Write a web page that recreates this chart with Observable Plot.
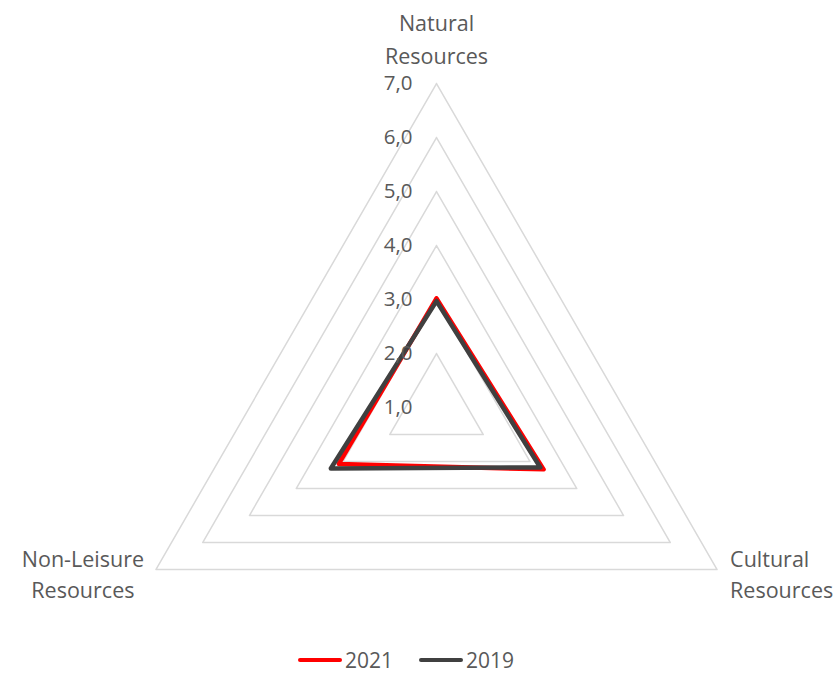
<!DOCTYPE html>
<html><head><meta charset="utf-8">
<script src="https://cdn.jsdelivr.net/npm/d3@7"></script>
<script src="https://cdn.jsdelivr.net/npm/@observablehq/plot@0.6"></script>
<style>
html,body{margin:0;background:#fff;font-family:"Open Sans",sans-serif;overflow:hidden;}
#chart{height:645px;}
#legend{display:flex;align-items:center;height:30px;line-height:24px;margin-left:298px;color:#595959;font-size:21px;font-family:"Open Sans",sans-serif;}
#legend .item{display:flex;align-items:center;margin-right:26px;}
#legend .sw{display:inline-block;width:44px;height:4.5px;border-radius:2.5px;margin-right:3px;}
</style></head><body>
<div id="chart"></div>
<div id="legend"></div>
<script>
const categories = ["Natural\nResources", "Cultural\nResources", "Non-Leisure\nResources"];
const series = ["2021", "2019"];
const values2021 = [3.02, 3.29, 3.09];
const values2019 = [2.97, 3.22, 3.26];
const seriesValues = [values2021, values2019];
const colors = ["#ff0000", "#404040"];
const ticks = [1, 2, 3, 4, 5, 6, 7];
const tickLabels = ["1,0", "2,0", "3,0", "4,0", "5,0", "6,0", "7,0"];

const W = 835, H = 645, CX = 436, CY = 407, UNIT = 54;
const rMin = ticks[0], rMax = ticks[ticks.length - 1];
const angle = i => Math.PI / 2 - i * 2 * Math.PI / 3;
const pos = (i, v) => ({x: (v - rMin) * Math.cos(angle(i)), y: (v - rMin) * Math.sin(angle(i))});

// grid rings (closed triangles)
const grid = [];
ticks.slice(1).forEach(t => {
  [0, 1, 2, 0].forEach(i => grid.push({ring: t, ...pos(i, t)}));
});
// series polygons
const lines = [];
series.forEach((s, k) => {
  [0, 1, 2, 0].forEach(i => lines.push({series: s, ...pos(i, seriesValues[k][i])}));
});
const tickData = ticks.map((t, j) => ({label: tickLabels[j], ...pos(0, t)}));
const catData = categories.map((c, i) => ({label: c, i, ...pos(i, rMax)}));

const txt = {fill: "#595959", fontFamily: "Open Sans", stroke: null};
const chart = Plot.plot({
  width: W, height: H,
  margin: 0,
  x: {domain: [-CX / UNIT, (W - CX) / UNIT], axis: null},
  y: {domain: [-(H - CY) / UNIT, CY / UNIT], axis: null},
  color: {domain: series, range: colors},
  marks: [
    Plot.line(grid, {x: "x", y: "y", z: "ring", stroke: "#d9d9d9", strokeWidth: 1.5}),
    Plot.line(lines, {x: "x", y: "y", z: "series", stroke: "series", strokeWidth: 4.5, strokeLinejoin: "round", strokeLinecap: "round"}),
    Plot.text(tickData, {x: "x", y: "y", text: "label", textAnchor: "end", dx: -24, fontSize: 20.5, ...txt}),
    Plot.text(catData.filter(d => d.i === 0), {x: "x", y: "y", text: "label", textAnchor: "middle", lineAnchor: "bottom", lineHeight: 1.5, dy: -20, fontSize: 21.5, ...txt}),
    Plot.text(catData.filter(d => d.i === 1), {x: "x", y: "y", text: "label", textAnchor: "start", lineAnchor: "bottom", lineHeight: 1.4, dx: 13, dy: 28, fontSize: 21.5, ...txt}),
    Plot.text(catData.filter(d => d.i === 2), {x: "x", y: "y", text: "label", textAnchor: "middle", lineAnchor: "bottom", lineHeight: 1.4, dx: -73, dy: 28, fontSize: 21.5, ...txt})
  ]
});
document.getElementById("chart").appendChild(chart);

const legend = document.getElementById("legend");
series.forEach((s, k) => {
  const item = document.createElement("span");
  item.className = "item";
  const sw = document.createElement("span");
  sw.className = "sw";
  sw.style.background = colors[k];
  item.appendChild(sw);
  item.appendChild(document.createTextNode(s));
  legend.appendChild(item);
});
</script>
</body></html>
